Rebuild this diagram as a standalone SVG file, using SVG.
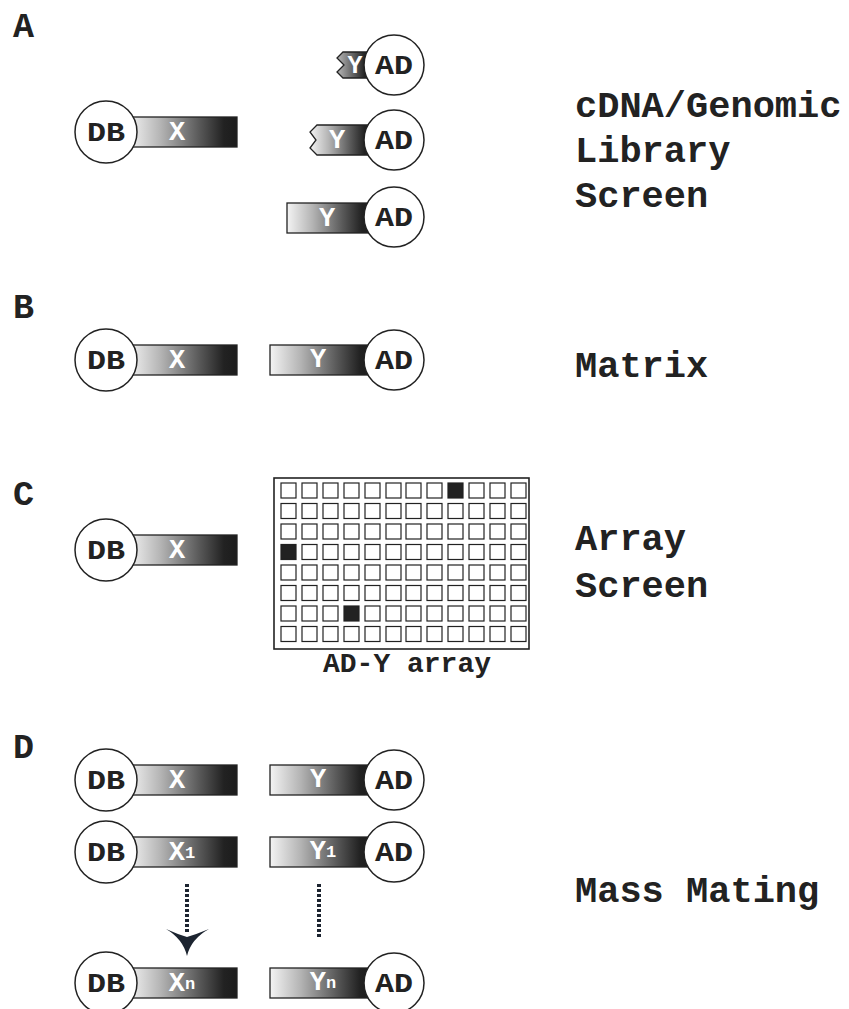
<svg xmlns="http://www.w3.org/2000/svg" width="849" height="1009" viewBox="0 0 849 1009">
<defs>
<linearGradient id="g" x1="0" y1="0" x2="1" y2="0">
<stop offset="0" stop-color="#f4f4f4"/>
<stop offset="0.3" stop-color="#b4b4b4"/>
<stop offset="0.65" stop-color="#5a5a5a"/>
<stop offset="0.88" stop-color="#222"/>
<stop offset="1" stop-color="#1c1c1c"/>
</linearGradient>
<linearGradient id="g2" x1="0" y1="0" x2="1" y2="0">
<stop offset="0" stop-color="#b8b8b8"/>
<stop offset="0.5" stop-color="#5a5a5a"/>
<stop offset="0.8" stop-color="#222"/>
<stop offset="1" stop-color="#1c1c1c"/>
</linearGradient>
<style>
.bar{fill:url(#g);stroke:#222;stroke-width:1.3}
.bar2{fill:url(#g2);stroke:#222;stroke-width:1.3}
.c{fill:#fff;stroke:#222;stroke-width:1.5}
.t{font-family:"Liberation Mono","DejaVu Sans Mono",monospace;font-weight:bold;fill:#222}
.ct{font-size:28px;text-anchor:middle;dominant-baseline:central}
.bt{font-family:"Liberation Mono","DejaVu Sans Mono",monospace;font-weight:bold;fill:#fff;font-size:27px;text-anchor:middle;dominant-baseline:central}
.sub{font-size:17px}
.lbl{font-size:37px}
.sec{font-size:35px}
.cell{fill:#fff;stroke:#222;stroke-width:1.2}
.on{fill:#222;stroke:#222;stroke-width:1.2}
.dot{fill:none;stroke:#1c2430;stroke-width:4;stroke-dasharray:3 2}
</style>
</defs>
<rect width="849" height="1009" fill="#fff"/>

<!-- section letters -->
<text class="t sec" x="13" y="37">A</text>
<text class="t sec" x="13" y="318">B</text>
<text class="t sec" x="13" y="505">C</text>
<text class="t sec" x="13" y="758">D</text>

<!-- labels -->
<text class="t lbl" x="575" y="117">cDNA/Genomic</text>
<text class="t lbl" x="575" y="162">Library</text>
<text class="t lbl" x="575" y="207">Screen</text>
<text class="t lbl" x="575" y="377">Matrix</text>
<text class="t lbl" x="575" y="550">Array</text>
<text class="t lbl" x="575" y="597">Screen</text>
<text class="t lbl" x="575" y="902">Mass Mating</text>

<!-- Section A -->
<g id="A-dbx">
<rect class="bar" x="128" y="117" width="109" height="30"/>
<circle class="c" cx="106" cy="132" r="31"/>
<text class="t ct" x="106" y="133" textLength="38" lengthAdjust="spacingAndGlyphs">DB</text>
<text class="bt" x="177" y="133">X</text>
</g>
<g id="A-ady1">
<path class="bar2" d="M343,52 L372,52 L372,78 L343,78 L337,72 L344,65 L337,58 Z"/>
<circle class="c" cx="394" cy="65" r="30"/>
<text class="t ct" x="394" y="66" textLength="38" lengthAdjust="spacingAndGlyphs">AD</text>
<text class="bt" x="355" y="66" style="font-size:25px">Y</text>
</g>
<g id="A-ady2">
<path class="bar" d="M317,125 L372,125 L372,155 L317,155 L310,148 L316,140 L310,132 Z"/>
<circle class="c" cx="394" cy="140" r="30"/>
<text class="t ct" x="394" y="141" textLength="38" lengthAdjust="spacingAndGlyphs">AD</text>
<text class="bt" x="337" y="141">Y</text>
</g>
<g id="A-ady3">
<rect class="bar" x="287" y="203" width="85" height="30"/>
<circle class="c" cx="394" cy="217" r="30"/>
<text class="t ct" x="394" y="218" textLength="38" lengthAdjust="spacingAndGlyphs">AD</text>
<text class="bt" x="327" y="219">Y</text>
</g>

<!-- Section B -->
<g id="B-dbx">
<rect class="bar" x="128" y="345" width="109" height="30"/>
<circle class="c" cx="106" cy="360" r="31"/>
<text class="t ct" x="106" y="361" textLength="38" lengthAdjust="spacingAndGlyphs">DB</text>
<text class="bt" x="177" y="361">X</text>
</g>
<g id="B-ady">
<rect class="bar" x="270" y="345" width="102" height="30"/>
<circle class="c" cx="394" cy="360" r="30"/>
<text class="t ct" x="394" y="361" textLength="38" lengthAdjust="spacingAndGlyphs">AD</text>
<text class="bt" x="318" y="360">Y</text>
</g>

<!-- Section C -->
<g id="C-dbx">
<rect class="bar" x="128" y="535" width="109" height="30"/>
<circle class="c" cx="106" cy="550" r="31"/>
<text class="t ct" x="106" y="551" textLength="38" lengthAdjust="spacingAndGlyphs">DB</text>
<text class="bt" x="177" y="551">X</text>
</g>
<g id="C-array">
<rect x="274" y="478" width="255" height="171" fill="#fff" stroke="#222" stroke-width="1.6"/>
<g id="cells">
<!-- row 0 -->
<rect class="cell" x="281" y="483" width="15" height="15"/><rect class="cell" x="302" y="483" width="15" height="15"/><rect class="cell" x="323" y="483" width="15" height="15"/><rect class="cell" x="344" y="483" width="15" height="15"/><rect class="cell" x="365" y="483" width="15" height="15"/><rect class="cell" x="386" y="483" width="15" height="15"/><rect class="cell" x="406" y="483" width="15" height="15"/><rect class="cell" x="427" y="483" width="15" height="15"/><rect class="on" x="448" y="483" width="15" height="15"/><rect class="cell" x="469" y="483" width="15" height="15"/><rect class="cell" x="490" y="483" width="15" height="15"/><rect class="cell" x="511" y="483" width="15" height="15"/>
<!-- row 1 -->
<rect class="cell" x="281" y="503.5" width="15" height="15"/><rect class="cell" x="302" y="503.5" width="15" height="15"/><rect class="cell" x="323" y="503.5" width="15" height="15"/><rect class="cell" x="344" y="503.5" width="15" height="15"/><rect class="cell" x="365" y="503.5" width="15" height="15"/><rect class="cell" x="386" y="503.5" width="15" height="15"/><rect class="cell" x="406" y="503.5" width="15" height="15"/><rect class="cell" x="427" y="503.5" width="15" height="15"/><rect class="cell" x="448" y="503.5" width="15" height="15"/><rect class="cell" x="469" y="503.5" width="15" height="15"/><rect class="cell" x="490" y="503.5" width="15" height="15"/><rect class="cell" x="511" y="503.5" width="15" height="15"/>
<!-- row 2 -->
<rect class="cell" x="281" y="524" width="15" height="15"/><rect class="cell" x="302" y="524" width="15" height="15"/><rect class="cell" x="323" y="524" width="15" height="15"/><rect class="cell" x="344" y="524" width="15" height="15"/><rect class="cell" x="365" y="524" width="15" height="15"/><rect class="cell" x="386" y="524" width="15" height="15"/><rect class="cell" x="406" y="524" width="15" height="15"/><rect class="cell" x="427" y="524" width="15" height="15"/><rect class="cell" x="448" y="524" width="15" height="15"/><rect class="cell" x="469" y="524" width="15" height="15"/><rect class="cell" x="490" y="524" width="15" height="15"/><rect class="cell" x="511" y="524" width="15" height="15"/>
<!-- row 3 -->
<rect class="on" x="281" y="544.5" width="15" height="15"/><rect class="cell" x="302" y="544.5" width="15" height="15"/><rect class="cell" x="323" y="544.5" width="15" height="15"/><rect class="cell" x="344" y="544.5" width="15" height="15"/><rect class="cell" x="365" y="544.5" width="15" height="15"/><rect class="cell" x="386" y="544.5" width="15" height="15"/><rect class="cell" x="406" y="544.5" width="15" height="15"/><rect class="cell" x="427" y="544.5" width="15" height="15"/><rect class="cell" x="448" y="544.5" width="15" height="15"/><rect class="cell" x="469" y="544.5" width="15" height="15"/><rect class="cell" x="490" y="544.5" width="15" height="15"/><rect class="cell" x="511" y="544.5" width="15" height="15"/>
<!-- row 4 -->
<rect class="cell" x="281" y="565" width="15" height="15"/><rect class="cell" x="302" y="565" width="15" height="15"/><rect class="cell" x="323" y="565" width="15" height="15"/><rect class="cell" x="344" y="565" width="15" height="15"/><rect class="cell" x="365" y="565" width="15" height="15"/><rect class="cell" x="386" y="565" width="15" height="15"/><rect class="cell" x="406" y="565" width="15" height="15"/><rect class="cell" x="427" y="565" width="15" height="15"/><rect class="cell" x="448" y="565" width="15" height="15"/><rect class="cell" x="469" y="565" width="15" height="15"/><rect class="cell" x="490" y="565" width="15" height="15"/><rect class="cell" x="511" y="565" width="15" height="15"/>
<!-- row 5 -->
<rect class="cell" x="281" y="585.5" width="15" height="15"/><rect class="cell" x="302" y="585.5" width="15" height="15"/><rect class="cell" x="323" y="585.5" width="15" height="15"/><rect class="cell" x="344" y="585.5" width="15" height="15"/><rect class="cell" x="365" y="585.5" width="15" height="15"/><rect class="cell" x="386" y="585.5" width="15" height="15"/><rect class="cell" x="406" y="585.5" width="15" height="15"/><rect class="cell" x="427" y="585.5" width="15" height="15"/><rect class="cell" x="448" y="585.5" width="15" height="15"/><rect class="cell" x="469" y="585.5" width="15" height="15"/><rect class="cell" x="490" y="585.5" width="15" height="15"/><rect class="cell" x="511" y="585.5" width="15" height="15"/>
<!-- row 6 -->
<rect class="cell" x="281" y="606" width="15" height="15"/><rect class="cell" x="302" y="606" width="15" height="15"/><rect class="cell" x="323" y="606" width="15" height="15"/><rect class="on" x="344" y="606" width="15" height="15"/><rect class="cell" x="365" y="606" width="15" height="15"/><rect class="cell" x="386" y="606" width="15" height="15"/><rect class="cell" x="406" y="606" width="15" height="15"/><rect class="cell" x="427" y="606" width="15" height="15"/><rect class="cell" x="448" y="606" width="15" height="15"/><rect class="cell" x="469" y="606" width="15" height="15"/><rect class="cell" x="490" y="606" width="15" height="15"/><rect class="cell" x="511" y="606" width="15" height="15"/>
<!-- row 7 -->
<rect class="cell" x="281" y="626.5" width="15" height="15"/><rect class="cell" x="302" y="626.5" width="15" height="15"/><rect class="cell" x="323" y="626.5" width="15" height="15"/><rect class="cell" x="344" y="626.5" width="15" height="15"/><rect class="cell" x="365" y="626.5" width="15" height="15"/><rect class="cell" x="386" y="626.5" width="15" height="15"/><rect class="cell" x="406" y="626.5" width="15" height="15"/><rect class="cell" x="427" y="626.5" width="15" height="15"/><rect class="cell" x="448" y="626.5" width="15" height="15"/><rect class="cell" x="469" y="626.5" width="15" height="15"/><rect class="cell" x="490" y="626.5" width="15" height="15"/><rect class="cell" x="511" y="626.5" width="15" height="15"/>
</g>
<text class="t" x="407" y="672" style="font-size:27px;text-anchor:middle" textLength="168" lengthAdjust="spacingAndGlyphs">AD-Y array</text>
</g>

<!-- Section D -->
<g id="D-dbx">
<rect class="bar" x="128" y="765" width="109" height="30"/>
<circle class="c" cx="106" cy="780" r="31"/>
<text class="t ct" x="106" y="781" textLength="38" lengthAdjust="spacingAndGlyphs">DB</text>
<text class="bt" x="177" y="781">X</text>
</g>
<g id="D-ady">
<rect class="bar" x="270" y="765" width="102" height="30"/>
<circle class="c" cx="394" cy="780" r="30"/>
<text class="t ct" x="394" y="781" textLength="38" lengthAdjust="spacingAndGlyphs">AD</text>
<text class="bt" x="318" y="780">Y</text>
</g>
<g id="D-dbx1">
<rect class="bar" x="128" y="837" width="109" height="30"/>
<circle class="c" cx="106" cy="852" r="31"/>
<text class="t ct" x="106" y="853" textLength="38" lengthAdjust="spacingAndGlyphs">DB</text>
<text class="bt" x="182" y="853">X<tspan class="sub">1</tspan></text>
</g>
<g id="D-ady1">
<rect class="bar" x="270" y="837" width="102" height="30"/>
<circle class="c" cx="394" cy="852" r="30"/>
<text class="t ct" x="394" y="853" textLength="38" lengthAdjust="spacingAndGlyphs">AD</text>
<text class="bt" x="323" y="852">Y<tspan class="sub">1</tspan></text>
</g>
<g id="D-dbxn">
<rect class="bar" x="128" y="968" width="109" height="30"/>
<circle class="c" cx="106" cy="983" r="31"/>
<text class="t ct" x="106" y="984" textLength="38" lengthAdjust="spacingAndGlyphs">DB</text>
<text class="bt" x="182" y="984">X<tspan class="sub">n</tspan></text>
</g>
<g id="D-adyn">
<rect class="bar" x="270" y="968" width="102" height="30"/>
<circle class="c" cx="394" cy="983" r="30"/>
<text class="t ct" x="394" y="984" textLength="38" lengthAdjust="spacingAndGlyphs">AD</text>
<text class="bt" x="323" y="983">Y<tspan class="sub">n</tspan></text>
</g>

<g id="connectors">
<line class="dot" x1="187" y1="884" x2="187" y2="934"/>
<path d="M166,929 Q183,939 187,956 Q191,939 209,929 Q197,934 187,937 Q177,934 166,929 Z" fill="#1c2430"/>
<line class="dot" x1="319" y1="884" x2="319" y2="937"/>
</g>
</svg>
